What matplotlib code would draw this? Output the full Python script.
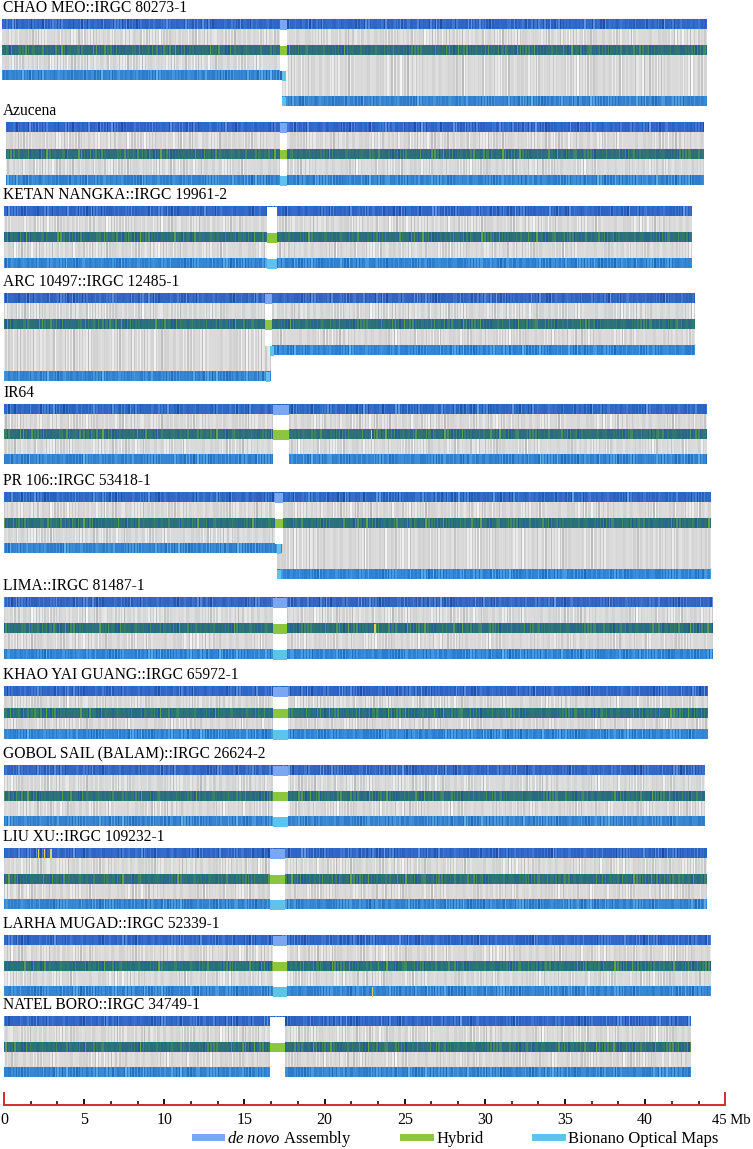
import numpy as np
import matplotlib.pyplot as plt
from matplotlib.colors import LinearSegmentedColormap
from matplotlib.lines import Line2D

plt.rcParams['font.family'] = ['Liberation Serif', 'DejaVu Serif']
plt.rcParams['mathtext.fontset'] = 'custom'
plt.rcParams['mathtext.it'] = 'Liberation Serif:italic'
plt.rcParams['mathtext.rm'] = 'Liberation Serif'

# ----------------------------------------------------------------------------------------------------------------------
# data (Mb)
# ----------------------------------------------------------------------------------------------------------------------

accessions = ["CHAO MEO::IRGC 80273-1", "Azucena", "KETAN NANGKA::IRGC 19961-2", "ARC 10497::IRGC 12485-1",
              "IR64", "PR 106::IRGC 53418-1", "LIMA::IRGC 81487-1", "KHAO YAI GUANG::IRGC 65972-1",
              "GOBOL SAIL (BALAM)::IRGC 26624-2", "LIU XU::IRGC 109232-1", "LARHA MUGAD::IRGC 52339-1",
              "NATEL BORO::IRGC 34749-1"]
chrom_start = [-0.1, 0.1, 0.0, 0.0, 0.0, 0.0, 0.0, 0.0, 0.0, 0.0, 0.0, 0.0]
chrom_end = [43.86, 43.6, 42.86, 43.1, 43.8, 44.05, 44.17, 43.86, 43.73, 43.8, 44.05, 42.8]
cen_start = [17.2, 17.2, 16.4, 16.3, 16.75, 16.9, 16.75, 16.75, 16.75, 16.6, 16.75, 16.6]
cen_end = [17.65, 17.65, 17.0, 16.7, 17.8, 17.4, 17.65, 17.7, 17.7, 17.5, 17.65, 17.5]
denovo_gap = [False, False, True, False, False, False, False, False, False, False, False, True]
bionano_gap = [False, False, False, False, True, False, False, False, False, False, False, True]

# optical maps broken in two pieces: panel -> (left piece end, right piece start, left piece on upper row)
bionano_split = {0: (17.6, 17.35, True), 3: (16.6, 16.6, False), 5: (17.3, 17.0, True)}

# odd yellow marks: (panel, track, position Mb)
highlights = [(9, 0, 2.1), (9, 0, 2.5), (9, 0, 2.9), (4, 1, 22.9), (6, 1, 23.1), (10, 2, 22.95)]

scale_major = [0, 5, 10, 15, 20, 25, 30, 35, 40, 45]
scale_labels = ['0', '5', '10', '15', '20', '25', '30', '35', '40', '45']

# hand-read stripe shade levels (texture of the tracks)
stripe_a = "4637254819364527384615293746182537496428175394627158349267418352947163825374916"
stripe_b = "3527461937258463719428536174295837164925384716253"

# ----------------------------------------------------------------------------------------------------------------------
# layout (pixels from top)
# ----------------------------------------------------------------------------------------------------------------------

denovo_top = [20, 123, 207, 294, 405, 493, 598, 687, 766, 849, 936, 1017]
row_gap = [25.5, 26.5, 26, 26, 25, 25.5, 26, 21.5, 25.5, 25.5, 25.5, 25.5]
bar_h = 9.5

denovo_cmap = LinearSegmentedColormap.from_list('dn', ['#183f90', '#2a5fbf', '#3670cf', '#6d9de6'])
hybrid_cmap = LinearSegmentedColormap.from_list('hy', ['#1f4f98', '#27678a', '#2f7a70', '#6aa24a'])
bionano_cmap = LinearSegmentedColormap.from_list('bn', ['#1f5fae', '#2b78c8', '#3f8fd8', '#62b4e8'])
grey_cmap = LinearSegmentedColormap.from_list('gr', ['#b0b0b0', '#d0d0d0', '#e0e0e0', '#f8f8f8'])
cen_colors = ['#7aa6f2', '#8cc63e', '#5ec3ec']

pa = np.array([int(c) for c in stripe_a])
pb = np.array([int(c) for c in stripe_b])

fig = plt.figure(figsize=(7.53, 11.49), dpi=100)
ax = fig.add_axes([0, 0, 1, 1])
ax.axis('off')


def strip(x0, x1, ytop, h, cmap, k):
    n = int((x1 - x0) / 0.09) + 1
    idx = np.arange(n) + 13 * k
    vals = (pa[idx % len(pa)] + pb[idx % len(pb)]) / 18.0
    ax.imshow(vals[np.newaxis, :], cmap=cmap, vmin=0, vmax=1, extent=(x0, x1, ytop + h, ytop),
              aspect='auto', interpolation='nearest')


for i, name in enumerate(accessions):
    x0, x1 = chrom_start[i], chrom_end[i]
    c0, c1 = cen_start[i], cen_end[i]
    y_dn = denovo_top[i]
    y_hy = y_dn + row_gap[i]
    y_bn = y_hy + row_gap[i]
    ax.text(-0.06, y_dn - 12, name, ha='left', va='center', fontsize=11.2)

    # grey alignment links
    strip(x0, x1, y_dn + bar_h, y_hy - y_dn - bar_h, grey_cmap, i + 40)
    if i in bionano_split:
        l_end, r_start, left_up = bionano_split[i]
        y_l = y_bn if left_up else y_bn + row_gap[i]
        y_r = y_bn + row_gap[i] if left_up else y_bn
        strip(x0, l_end, y_hy + bar_h, y_l - y_hy - bar_h, grey_cmap, i + 60)
        strip(r_start, x1, y_hy + bar_h, y_r - y_hy - bar_h, grey_cmap, i + 70)
        bion_pieces = [(x0, l_end, y_l), (r_start, x1, y_r)]
    else:
        strip(x0, x1, y_hy + bar_h, y_bn - y_hy - bar_h, grey_cmap, i + 60)
        bion_pieces = [(x0, x1, y_bn)]
    ax.barh([y_dn + bar_h + (y_hy - y_dn - bar_h) / 2, y_hy + bar_h + (y_bn - y_hy - bar_h) / 2],
            [c1 - c0, c1 - c0], left=c0, height=[y_hy - y_dn - bar_h, y_bn - y_hy - bar_h],
            color='white', zorder=2)

    # tracks
    strip(x0, x1, y_dn, bar_h, denovo_cmap, i)
    strip(x0, x1, y_hy, bar_h, hybrid_cmap, i + 20)
    for k, (b0, b1, yb) in enumerate(bion_pieces):
        strip(b0, b1, yb, bar_h, bionano_cmap, i + 30 + k)

    ax.barh(y_dn + bar_h / 2, c1 - c0, left=c0, height=bar_h,
            color='white' if denovo_gap[i] else cen_colors[0], zorder=3)
    ax.barh(y_hy + bar_h / 2, c1 - c0, left=c0, height=bar_h, color=cen_colors[1], zorder=3)
    if i not in bionano_split:
        ax.barh(y_bn + bar_h / 2, c1 - c0, left=c0, height=bar_h,
                color='white' if bionano_gap[i] else cen_colors[2], zorder=3)
    else:
        l_end, r_start, left_up = bionano_split[i]
        y_l = y_bn if left_up else y_bn + row_gap[i]
        y_r = y_bn + row_gap[i] if left_up else y_bn
        ax.barh(y_l + bar_h / 2, 0.25, left=l_end - 0.25, height=bar_h, color=cen_colors[2], zorder=3)
        ax.barh(y_r + bar_h / 2, 0.25, left=r_start, height=bar_h, color=cen_colors[2], zorder=3)

for p, t, pos in highlights:
    y_t = denovo_top[p] + t * row_gap[p]
    ax.barh(y_t + bar_h / 2, 0.08, left=pos, height=bar_h, color='#d8d36a', zorder=4)

# ----------------------------------------------------------------------------------------------------------------------
# scale bar
# ----------------------------------------------------------------------------------------------------------------------

y_axis = 1105
ax.plot([scale_major[0], scale_major[-1]], [y_axis, y_axis], color='#d42a2a', lw=1.4, zorder=5)
ax.vlines([scale_major[0], scale_major[-1]], 1092, y_axis, color='#d42a2a', lw=1.4, zorder=5)
ax.vlines(scale_major[1:-1], 1098.5, y_axis, color='black', lw=1.3, zorder=4)
minor = [m * 5 / 3 for m in range(1, 27) if m % 3 != 0]
ax.vlines(minor, 1101, y_axis, color='black', lw=1.1, zorder=4)
for v, lab in zip(scale_major[:-1], scale_labels[:-1]):
    ax.text(v, 1120, lab, ha='center', va='center', fontsize=11.5)
ax.text(46.55, 1120, scale_labels[-1] + ' Mb', ha='right', va='center', fontsize=10.5)

handles = [Line2D([], [], color=c, lw=5) for c in cen_colors]
fig.legend(handles, [r'$\it{de\ novo}$ Assembly', 'Hybrid', 'Bionano Optical Maps'], ncol=3,
           loc='center', bbox_to_anchor=(0.606, 0.0085), frameon=False, fontsize=12,
           handlelength=1.6, handletextpad=0.36, columnspacing=3.1, borderpad=0, borderaxespad=0)

ax.set_xlim(-4 / 16.03, 749 / 16.03)
ax.set_ylim(1149, 0)

plt.savefig('out.png', dpi=100)
